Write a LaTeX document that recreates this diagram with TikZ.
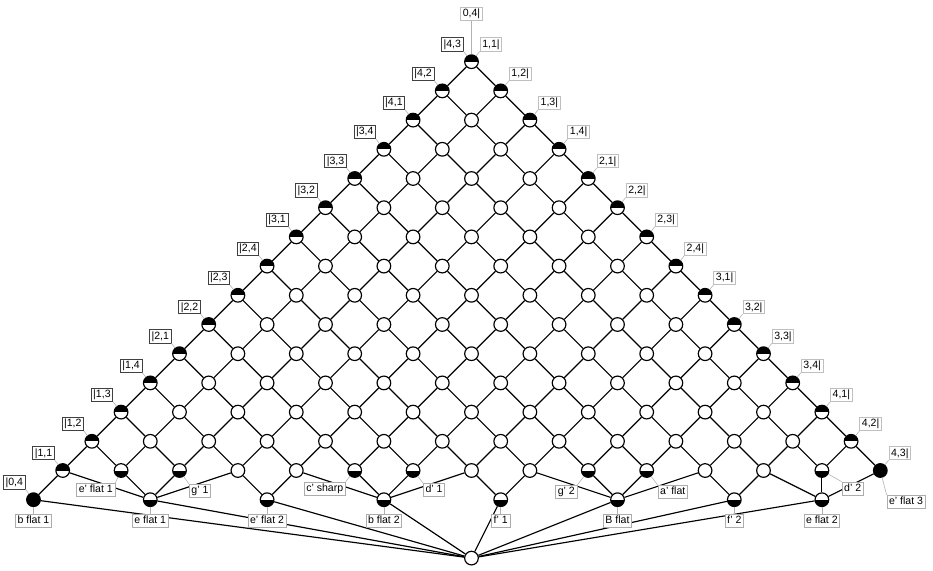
\documentclass[tikz,border=0pt]{standalone}
\usepackage{fontspec}
\setmainfont{Liberation Sans}
\usetikzlibrary{positioning}

\begin{document}
\begin{tikzpicture}[
		x=0.876cm, y=0.876cm,
		concept/.style={circle, draw, fill=white, line width=1pt, minimum size=0.41cm, inner sep=0pt},
		attrnode/.style={concept, path picture={\fill[black] (path picture bounding box.north west) rectangle (path picture bounding box.east);}},
		objnode/.style={concept, path picture={\fill[black] (path picture bounding box.south west) rectangle (path picture bounding box.east);}},
		fullnode/.style={concept, fill=black},
		link/.style={line width=1pt},
		attrlab/.style={rectangle, draw=black!75, fill=white, line width=0.6pt, font=\fontsize{9}{10}\selectfont, inner xsep=1.8pt, inner ysep=1.4pt, text height=6.8pt, text depth=1.7pt},
		rattrlab/.style={attrlab, draw=gray!50},
		objlab/.style={attrlab, draw=gray!65},
		tie/.style={draw=gray!60, line width=0.5pt}
		]
		\useasboundingbox (-16.147,-17.408) rectangle (15.805,2.113);

		% Left chain (attributes)
		\foreach \a in {0,...,14}
			\node[attrnode] (n-\a-0) at (-\a,-\a) {};

		% Right chain (attributes)
		\foreach \b in {1,...,13}
			\node[attrnode] (n-0-\b) at (\b,-\b) {};

		% Chain ends (attribute and object)
		\node[fullnode] (n-15-0) at (-15,-15) {};
		\node[fullnode] (n-0-14) at (14,-14) {};

		% Inner grid
		\foreach \a in {1,...,12}{
			\pgfmathtruncatemacro\bmax{13-\a}
			\foreach \b in {1,...,\bmax}
				\node[concept] (n-\a-\b) at (\b-\a,-\a-\b) {};
		}

		% Lowest grid row
		\foreach \a in {13,12,9,8,5,4,1}{
			\pgfmathtruncatemacro\b{14-\a}
			\node[objnode] (n-\a-\b) at (\b-\a,-14) {};
		}
		\foreach \a in {11,10,7,6,3,2}{
			\pgfmathtruncatemacro\b{14-\a}
			\node[concept] (n-\a-\b) at (\b-\a,-14) {};
		}

		% Object concepts below the grid
		\node[objnode] (eflat1) at (-11,-15) {};
		\node[objnode] (eprflat2) at (-7,-15) {};
		\node[objnode] (bflat2) at (-3,-15) {};
		\node[objnode] (fpr1) at (1,-15) {};
		\node[objnode] (Bflat) at (5,-15) {};
		\node[objnode] (fpr2) at (9,-15) {};
		\node[objnode] (eflat2) at (12,-15) {};

		% Bottom concept
		\node[concept] (bottom) at (0,-17) {};

		% Grid lines
		\foreach \a in {0,...,13}{
			\pgfmathtruncatemacro\bmax{13-\a}
			\pgfmathtruncatemacro\na{\a+1}
			\foreach \b in {0,...,\bmax}{
				\pgfmathtruncatemacro\nb{\b+1}
				\draw[link] (n-\a-\b) -- (n-\na-\b);
				\draw[link] (n-\a-\b) -- (n-\a-\nb);
			}
		}
		\draw[link] (n-14-0) -- (n-15-0);

		% Lines to the object concepts
		\foreach \x in {n-14-0,n-13-1,n-12-2,n-11-3}
			\draw[link] (\x) -- (eflat1);
		\foreach \x in {n-11-3,n-10-4}
			\draw[link] (\x) -- (eprflat2);
		\foreach \x in {n-10-4,n-9-5,n-8-6,n-7-7}
			\draw[link] (\x) -- (bflat2);
		\foreach \x in {n-7-7,n-6-8}
			\draw[link] (\x) -- (fpr1);
		\foreach \x in {n-6-8,n-5-9,n-4-10,n-3-11}
			\draw[link] (\x) -- (Bflat);
		\foreach \x in {n-3-11,n-2-12}
			\draw[link] (\x) -- (fpr2);
		\foreach \x in {n-2-12,n-1-13,n-0-14}
			\draw[link] (\x) -- (eflat2);

		% Lines to the bottom
		\foreach \x in {n-15-0,eflat1,eprflat2,bflat2,fpr1,Bflat,fpr2,eflat2}
			\draw[link] (\x) -- (bottom);

		% Attribute labels, left
		\foreach \a in {0,...,14}{
			\pgfmathtruncatemacro\k{14-\a}
			\pgfmathtruncatemacro\p{1+int(\k/4)}
			\pgfmathtruncatemacro\q{1+mod(\k,4)}
			\node[attrlab, above left=3.1mm and 2.4mm of n-\a-0.center] (la-\a) {|\p,\q};
			\draw[tie] (la-\a.south east) -- (n-\a-0);
		}
		\node[attrlab, above left=3.1mm and 2.4mm of n-15-0.center] (la-15) {|0,4};
		\draw[tie] (la-15.south east) -- (n-15-0);

		% Attribute labels, right
		\foreach \b in {0,...,14}{
			\pgfmathtruncatemacro\p{1+int(\b/4)}
			\pgfmathtruncatemacro\q{1+mod(\b,4)}
			\node[rattrlab, above right=3.1mm and 2.5mm of n-0-\b.center] (lb-\b) {\p,\q|};
			\draw[tie] (lb-\b.south west) -- (n-0-\b);
		}
		\node[rattrlab, above=12.3mm of n-0-0.center] (ltop) {0,4|};
		\draw[tie] (ltop) -- (n-0-0);

		% Object labels
		\node[objlab, below=4.2mm of n-15-0.center] (lo-bflat1) {b flat 1};
		\draw[tie] (lo-bflat1) -- (n-15-0);
		\node[objlab, below left=3.75mm and 1.75mm of n-13-1.center] (lo-eprflat1) {e' flat 1};
		\draw[tie] (lo-eprflat1.north east) -- (n-13-1);
		\node[objlab, below right=4.05mm and 2.85mm of n-12-2.center] (lo-gpr1) {g' 1};
		\draw[tie] (lo-gpr1.north west) -- (n-12-2);
		\node[objlab, below=4.2mm of eflat1.center] (lo-eflat1) {e flat 1};
		\draw[tie] (lo-eflat1) -- (eflat1);
		\node[objlab, below=4.2mm of eprflat2.center] (lo-eprflat2) {e' flat 2};
		\draw[tie] (lo-eprflat2) -- (eprflat2);
		\node[objlab, below left=3.35mm and 2.7mm of n-9-5.center] (lo-cprsharp) {c' sharp};
		\draw[tie] (lo-cprsharp.north east) -- (n-9-5);
		\node[objlab, below right=3.75mm and 3mm of n-8-6.center] (lo-dpr1) {d' 1};
		\draw[tie] (lo-dpr1.north west) -- (n-8-6);
		\node[objlab, below=4.2mm of bflat2.center] (lo-bflat2) {b flat 2};
		\draw[tie] (lo-bflat2) -- (bflat2);
		\node[objlab, below=4.2mm of fpr1.center] (lo-fpr1) {f' 1};
		\draw[tie] (lo-fpr1) -- (fpr1);
		\node[objlab, below left=4.35mm and 3.3mm of n-5-9.center] (lo-gpr2) {g' 2};
		\draw[tie] (lo-gpr2.north east) -- (n-5-9);
		\node[objlab, below right=4.35mm and 3.3mm of n-4-10.center] (lo-aprflat) {a' flat};
		\draw[tie] (lo-aprflat.north west) -- (n-4-10);
		\node[objlab, below=4.2mm of Bflat.center] (lo-Bflat) {B flat};
		\draw[tie] (lo-Bflat) -- (Bflat);
		\node[objlab, below=4.2mm of fpr2.center] (lo-fpr2) {f' 2};
		\draw[tie] (lo-fpr2) -- (fpr2);
		\node[objlab, below right=3.35mm and 5.95mm of n-1-13.center] (lo-dpr2) {d' 2};
		\draw[tie] (lo-dpr2.north west) -- (n-1-13);
		\node[objlab, below=4.2mm of eflat2.center] (lo-eflat2) {e flat 2};
		\draw[tie] (lo-eflat2) -- (eflat2);
		\node[objlab, below right=7.35mm and 1.9mm of n-0-14.center] (lo-eprflat3) {e' flat 3};
		\draw[tie] (lo-eprflat3.north west) -- (n-0-14);

	\end{tikzpicture}
\end{document}
